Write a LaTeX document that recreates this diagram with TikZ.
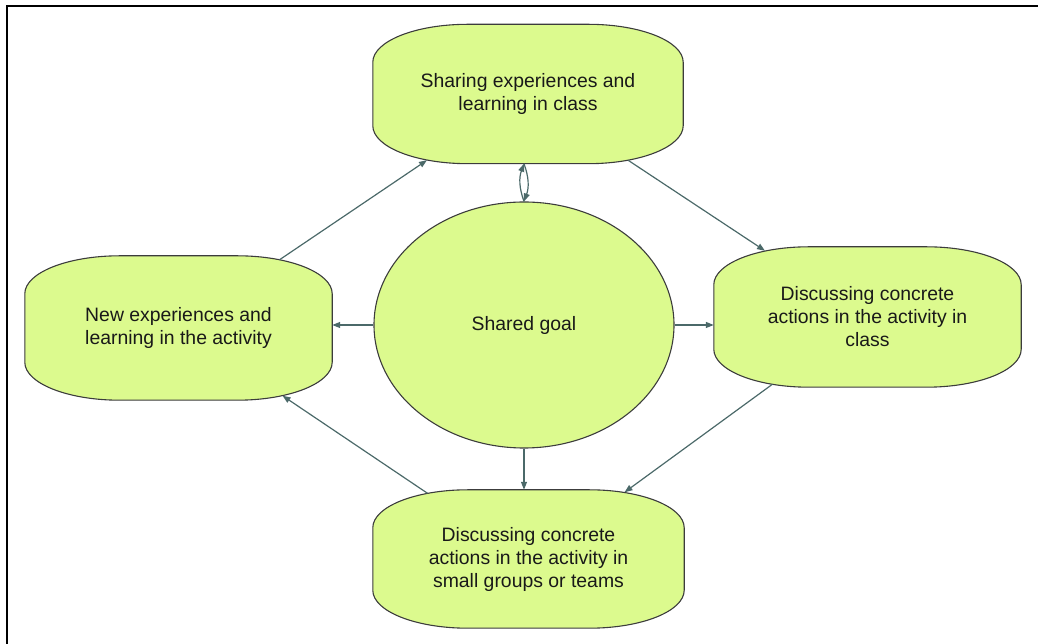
\documentclass[tikz,border=0pt]{standalone}
\usepackage{fontspec}
\setmainfont{Liberation Sans}
\usetikzlibrary{arrows.meta,shapes.geometric,backgrounds}

\definecolor{boxfill}{HTML}{DCFA8E}
\definecolor{boxedge}{HTML}{3C3C3C}
\definecolor{flowline}{HTML}{4B6969}

% outline with wide elliptical corners round a text node
\newcommand{\softbox}[1]{%
  \path[boxline] ([yshift=-38pt]#1.north west)
    arc[start angle=180,end angle=90,x radius=95pt,y radius=38pt]
    -- ([xshift=-95pt]#1.north east)
    arc[start angle=90,end angle=0,x radius=95pt,y radius=38pt]
    -- ([yshift=38pt]#1.south east)
    arc[start angle=0,end angle=-90,x radius=95pt,y radius=38pt]
    -- ([xshift=95pt]#1.south west)
    arc[start angle=-90,end angle=-180,x radius=95pt,y radius=38pt]
    -- cycle;}

\begin{document}
\begin{tikzpicture}[x=1pt,y=1pt,
  every node/.style={font=\fontsize{19.4}{23}\selectfont,align=center,text=black!90},
  stage/.style={minimum width=308pt,minimum height=140pt,inner sep=0pt},
  boxline/.style={draw=boxedge,fill=boxfill,line width=1.1pt},
  goalnode/.style={ellipse,draw=boxedge,fill=boxfill,line width=1.1pt,
    minimum width=300pt,minimum height=246pt,inner sep=0pt},
  flow/.style={draw=flowline,line width=1.2pt,-{Triangle[length=8pt,width=6pt]}}]
\useasboundingbox (0,0) rectangle (1038,644);
\draw[line width=2.5pt] (7,0) -- (7,638) -- (1038,638);

\node[stage,minimum width=310pt,minimum height=139pt] (share) at (528,550) {Sharing experiences and\\learning in class};
\node[stage,minimum width=307pt,minimum height=144pt] (newexp) at (178.5,316) {New experiences and\\learning in the activity};
\node[stage,minimum width=307pt] (discls) at (867.5,327) {Discussing concrete\\actions in the activity in\\class};
\node[stage,minimum width=311pt,minimum height=138pt] (disgrp) at (528.5,85) {Discussing concrete\\actions in the activity in\\small groups or teams};
\node[goalnode] (goal) at (524,319) {Shared goal};

\begin{pgfonlayer}{background}
\softbox{share}
\softbox{newexp}
\softbox{discls}
\softbox{disgrp}
\end{pgfonlayer}

% the cycle round the goal
\draw[flow] ([xshift=101pt,yshift=-4pt]newexp.north) -- ([xshift=-101pt,yshift=3.5pt]share.south);
\draw[flow] ([xshift=100pt,yshift=3.5pt]share.south) -- ([xshift=-102.5pt,yshift=-4pt]discls.north);
\draw[flow] ([xshift=-95pt,yshift=3pt]discls.south) -- ([xshift=96pt,yshift=-2.5pt]disgrp.north);
\draw[flow] ([xshift=-101pt,yshift=-3.5pt]disgrp.north) -- ([xshift=104pt,yshift=4.5pt]newexp.south);

% from the goal
\draw[flow] (goal.east) -- (goal.east -| discls.west);
\draw[flow] (goal.west) -- (goal.west -| newexp.east);
\draw[flow] (goal.south) -- (goal.south |- disgrp.north);
\draw[flow] (goal.north) to[bend left=20] (goal.north |- share.south);
\draw[flow] (goal.north |- share.south) to[bend left=20] (goal.north);
\end{tikzpicture}
\end{document}
